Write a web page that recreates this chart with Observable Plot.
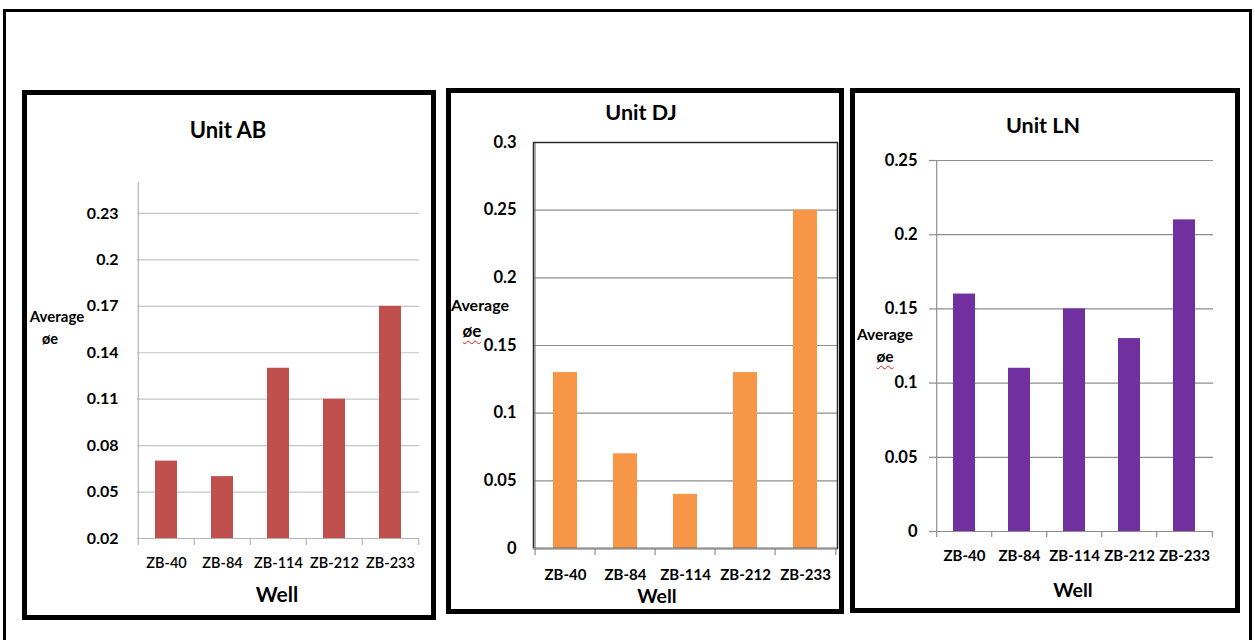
<!DOCTYPE html>
<html><head><meta charset="utf-8">
<script src="https://cdn.jsdelivr.net/npm/d3@7"></script>
<script src="https://cdn.jsdelivr.net/npm/@observablehq/plot@0.6"></script>
<style>
body{margin:0;background:#fff;}
#page{position:relative;width:1255px;height:640px;overflow:hidden;font-family:Lato,"Open Sans",sans-serif;background:#fff;}
.box{position:absolute;box-sizing:border-box;}
.t{position:absolute;font-weight:bold;color:#000;white-space:nowrap;transform:translate(-50%,-50%);line-height:1;}
.svgwrap{position:absolute;}
.squig{text-decoration:underline wavy #e02020;text-decoration-thickness:1px;text-underline-offset:3px;}
</style></head><body><div id="page"></div>
<script>
// ---- data ----
const wells = ["ZB-40", "ZB-84", "ZB-114", "ZB-212", "ZB-233"];
const unitAB = [0.07, 0.06, 0.13, 0.11, 0.17];
const unitDJ = [0.13, 0.07, 0.04, 0.13, 0.25];
const unitLN = [0.16, 0.11, 0.15, 0.13, 0.21];
const ticksAB = [0.02, 0.05, 0.08, 0.11, 0.14, 0.17, 0.2, 0.23];
const ticksDJ = [0, 0.05, 0.1, 0.15, 0.2, 0.25, 0.3];
const ticksLN = [0, 0.05, 0.1, 0.15, 0.2, 0.25];
const domainAB = [0.02, 0.25];
const domainDJ = [0, 0.3];
const domainLN = [0, 0.25];
const titles = ["Unit AB", "Unit DJ", "Unit LN"];
const xTitle = "Well";
const yTitle = ["Average", "øe"];

const page = document.getElementById("page");
const fmt = d => String(Math.round(d * 100) / 100);

function addBox(l, t, w, h, border) {
  const d = document.createElement("div");
  d.className = "box";
  Object.assign(d.style, {left: l + "px", top: t + "px", width: w + "px", height: h + "px", border});
  page.appendChild(d);
}
function addText(txt, x, y, size, cls) {
  const d = document.createElement("div");
  d.className = "t" + (cls ? " " + cls : "");
  d.textContent = txt;
  Object.assign(d.style, {left: x + "px", top: y + "px", fontSize: size + "px"});
  page.appendChild(d);
}

function panel(cfg) {
  const {values, ticks, domain, color, svg, area, grid, axisColor, frame, yTickSize, yPad, xPad, xTickLen, yFont, xFont, xWeight} = cfg;
  const data = wells.map((w, i) => ({well: w, value: values[i]}));
  const marginLeft = area.x0 - svg.left;
  const marginRight = svg.left + svg.width - area.x1;
  const marginTop = area.y0 - svg.top;
  const marginBottom = svg.top + svg.height - area.y1;
  const step = (area.x1 - area.x0) / wells.length;
  const yMin = domain[0];
  const marks = [
    Plot.gridY(ticks, {stroke: grid, strokeOpacity: 1, strokeWidth: 1.2}),
    Plot.barY(data, {x: "well", y1: () => yMin, y2: "value", fill: color}),
    Plot.axisY(ticks, {tickSize: yTickSize, tickPadding: yPad, tickFormat: fmt, fontSize: yFont, fontWeight: "bold", stroke: grid, strokeWidth: 1.2, fill: "#000"}),
    Plot.axisX(wells, {tickSize: 0, tickPadding: xPad, fontSize: xFont, fontWeight: xWeight, fill: "#000"}),
    Plot.ruleX([wells[0]], {dx: -step / 2, stroke: axisColor, strokeWidth: 1.2}),
    Plot.ruleY([yMin], {stroke: axisColor, strokeWidth: 1.2}),
    Plot.ruleX(wells, {x: d => d, y1: () => yMin, y2: () => yMin, insetBottom: -xTickLen, dx: -step / 2, stroke: axisColor, strokeWidth: 1.2}),
    Plot.ruleX([wells[wells.length - 1]], {x: d => d, y1: () => yMin, y2: () => yMin, insetBottom: -xTickLen, dx: step / 2, stroke: axisColor, strokeWidth: 1.2})
  ];
  if (frame) marks.push(Plot.frame({stroke: frame, strokeWidth: 1.5}));
  if (frame) marks.push(Plot.ruleY([yMin], {stroke: axisColor, strokeWidth: 1.5}));
  const chart = Plot.plot({
    width: svg.width, height: svg.height,
    marginLeft, marginRight, marginTop, marginBottom,
    style: {fontFamily: "Lato, 'Open Sans', sans-serif", background: "transparent", overflow: "visible"},
    x: {domain: wells, paddingInner: 0.6, paddingOuter: 0.3, label: null},
    y: {domain, label: null},
    marks
  });
  const wrap = document.createElement("div");
  wrap.className = "svgwrap";
  Object.assign(wrap.style, {left: svg.left + "px", top: svg.top + "px"});
  wrap.appendChild(chart);
  page.appendChild(wrap);
}

// outer frame
addBox(3, 9, 1249, 660, "3px solid #000");
// panel borders
addBox(22, 90, 414, 530, "5px solid #000");
addBox(446, 88, 398, 526, "5px solid #000");
addBox(850, 88, 390, 525, "5px solid #000");

panel({values: unitAB, ticks: ticksAB, domain: domainAB, color: "#C0504D",
  svg: {left: 30, top: 170, width: 400, height: 440}, area: {x0: 137, x1: 419, y0: 182, y1: 538},
  grid: "#c4c4c4", axisColor: "#b4b4b4", frame: null, yTickSize: 0, yPad: 19, xPad: 19, xTickLen: 7, yFont: 16, xFont: 14.5, xWeight: 600});
panel({values: unitDJ, ticks: ticksDJ, domain: domainDJ, color: "#F79646",
  svg: {left: 455, top: 130, width: 385, height: 470}, area: {x0: 533, x1: 837, y0: 142, y1: 548},
  grid: "#8e8e8e", axisColor: "#8e8e8e", frame: "#2a2a2a", yTickSize: 0, yPad: 17, xPad: 21, xTickLen: 7, yFont: 16.5, xFont: 15, xWeight: "bold"});
panel({values: unitLN, ticks: ticksLN, domain: domainLN, color: "#7030A0",
  svg: {left: 860, top: 145, width: 370, height: 440}, area: {x0: 935, x1: 1213, y0: 160, y1: 531},
  grid: "#8e8e8e", axisColor: "#8e8e8e", frame: null, yTickSize: 6, yPad: 12, xPad: 19, xTickLen: 6, yFont: 16.5, xFont: 15, xWeight: "bold"});

// titles
addText(titles[0], 228, 130, 22);
addText(titles[1], 641, 113, 21.5);
addText(titles[2], 1043, 126, 21.5);
// x titles
addText(xTitle, 277, 593, 21);
addText(xTitle, 657, 596, 19.5);
addText(xTitle, 1073, 590, 19.5);
// y titles
addText(yTitle[0], 57, 316, 15);
addText(yTitle[1], 50, 339, 14.5);
addText(yTitle[0], 480, 305, 16);
addText(yTitle[1], 472, 330, 17, "squig");
addText(yTitle[0], 885, 335, 15.5);
addText(yTitle[1], 885, 357, 15.5, "squig");
</script></body></html>
